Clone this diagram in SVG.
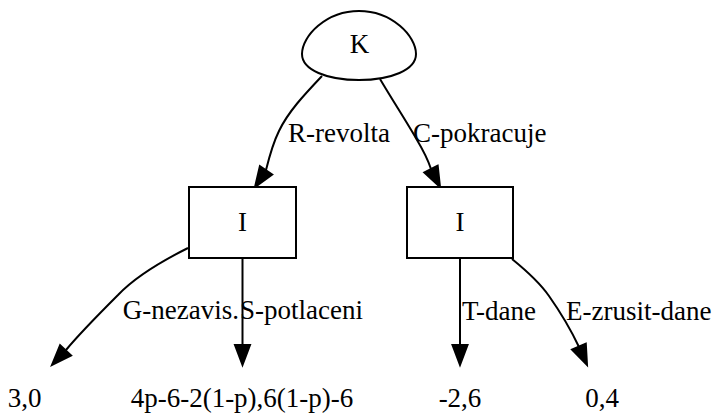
<svg xmlns="http://www.w3.org/2000/svg" width="714" height="414" viewBox="0 0 714 414">
<style>
text{font-family:'Liberation Serif','Times New Roman',Times,'DejaVu Serif',serif;font-size:27px;fill:#000}
.n{fill:#fff;stroke:#000;stroke-width:2}
.e{fill:none;stroke:#000;stroke-width:2}
.a{fill:#000;stroke:#000;stroke-width:2}
.m{text-anchor:middle}
</style>
<rect width="714" height="414" fill="#fff"/>
<g id="connectors" font-family="Liberation Serif, serif">
<path class="e" d="M322,76 C304,95 288,112 279,131 C273,143 269,158 266,170"/>
<polygon class="a" points="272.2,174.6 259.9,166.2 255,187"/>
<path class="e" d="M380,79 C393,101 408,124 417,140 C423,150 428,160 431,169"/>
<polygon class="a" points="437.7,165.7 424.3,172.5 440,187"/>
<path class="e" d="M188,248 C160,262 135,277 118,295 C100,313 80,333 66,350"/>
<polygon class="a" points="71.1,355.4 60.1,345.2 52,365"/>
<path class="e" d="M242.5,258 L242.5,345"/>
<polygon class="a" points="235,345 250,345 242.5,365"/>
<path class="e" d="M460,258 L460,345"/>
<polygon class="a" points="452.5,345 467.5,345 460,365"/>
<path class="e" d="M512,259 C528,272 540,283 549,296 C561,313 571,330 579,347"/>
<polygon class="a" points="585.8,343.7 572,349.7 587,365"/>
<text x="288" y="142">R-revolta</text>
<text x="413" y="142">C-pokracuje</text>
<text x="239" y="319" text-anchor="end">G-nezavis.</text>
<text x="240" y="319">S-potlaceni</text>
<text x="462" y="320">T-dane</text>
<text x="566" y="320">E-zrusit-dane</text>
</g>
<g id="K">
<path class="n" d="M359,11 C392,11 416,36 416,54 C416,70 391,80 359,80 C327,80 302,70 302,54 C302,36 326,11 359,11 Z"/>
<text class="m" x="359.5" y="53">K</text>
</g>
<g id="I1">
<rect class="n" x="189" y="187" width="107" height="71"/>
<text class="m" x="242.5" y="231">I</text>
</g>
<g id="I2">
<rect class="n" x="407" y="187" width="106" height="71"/>
<text class="m" x="460" y="231">I</text>
</g>
<g id="t1"><text class="m" x="24.5" y="407">3,0</text></g>
<g id="t2"><text class="m" x="242" y="407">4p-6-2(1-p),6(1-p)-6</text></g>
<g id="t3"><text class="m" x="460" y="407">-2,6</text></g>
<g id="t4"><text class="m" x="602" y="407">0,4</text></g>
</svg>
